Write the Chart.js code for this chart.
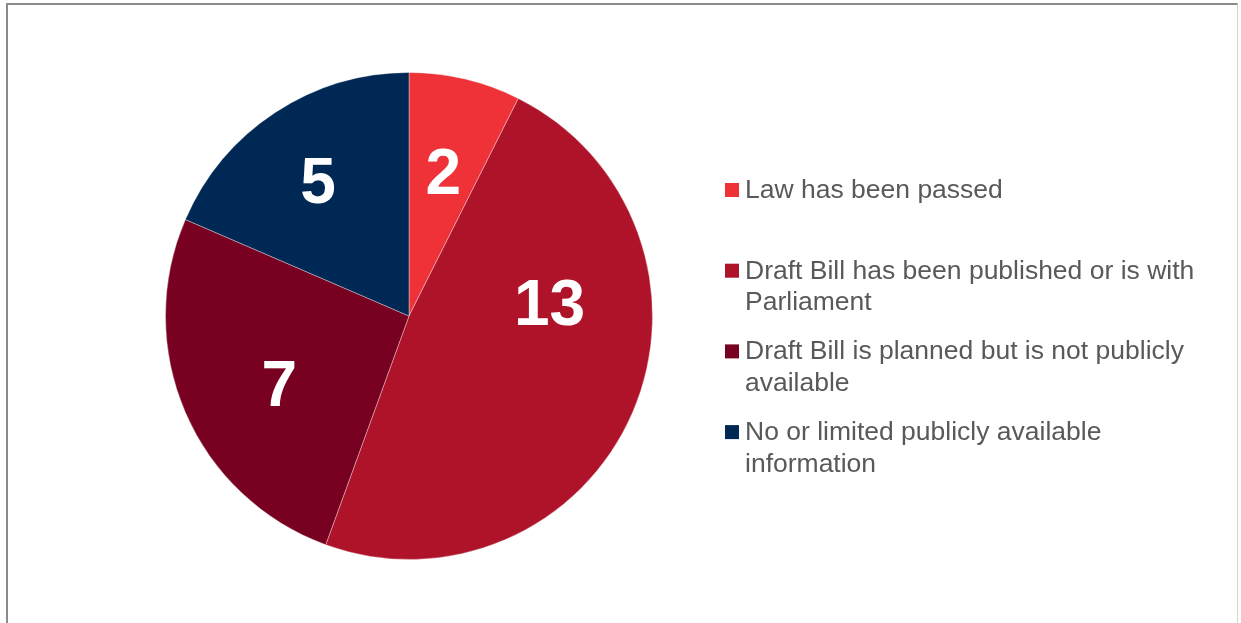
<!DOCTYPE html>
<html>
<head>
<meta charset="utf-8">
<script src="https://cdn.jsdelivr.net/npm/chart.js@4"></script>
<style>
html,body{margin:0;padding:0;background:#fff;width:1241px;height:623px;overflow:hidden;}
#frame{position:absolute;left:6px;top:3px;width:1232px;height:640px;border-left:2px solid #8a8a8a;border-top:2px solid #8a8a8a;border-right:1px solid #d4d4d4;box-sizing:border-box;}
#wrap{position:absolute;left:0;top:0;width:1241px;height:623px;}
</style>
</head>
<body>
<div id="frame"></div>
<div id="wrap"><canvas id="c" width="1241" height="623"></canvas></div>
<script>
const categories = [
  "Law has been passed",
  "Draft Bill has been published or is with Parliament",
  "Draft Bill is planned but is not publicly available",
  "No or limited publicly available information"
];
const values = [2, 13, 7, 5];
const colors = ["#EE3237", "#AE132A", "#780020", "#002855"];

const labelPlugin = {
  id: 'sliceLabels',
  afterDatasetsDraw(chart, args, opts) {
    const ctx = chart.ctx;
    const meta = chart.getDatasetMeta(0);
    const fs = opts.fontSize;
    ctx.save();
    ctx.fillStyle = '#ffffff';
    ctx.font = 'bold ' + fs + 'px "Liberation Sans", Arial, sans-serif';
    ctx.textAlign = 'center';
    ctx.textBaseline = 'alphabetic';
    meta.data.forEach((arc, i) => {
      const p = arc.getProps(['x','y','startAngle','endAngle','outerRadius'], true);
      const shift = (opts.angleShift[i] || 0) * Math.PI / 180;
      const a = (p.startAngle + p.endAngle) / 2 + shift;
      const r = p.outerRadius * opts.radiusFactor[i];
      const x = p.x + Math.cos(a) * r;
      const y = p.y + Math.sin(a) * r;
      ctx.fillText(String(values[i]), x, y + fs * 0.358);
    });
    ctx.restore();
  }
};

const legendPlugin = {
  id: 'sideLegend',
  afterDraw(chart, args, opts) {
    const ctx = chart.ctx;
    ctx.save();
    ctx.font = opts.fontSize + 'px "Liberation Sans", Arial, sans-serif';
    ctx.textBaseline = 'alphabetic';
    ctx.textAlign = 'left';
    categories.forEach((label, i) => {
      const base = opts.top + i * opts.step;
      ctx.fillStyle = colors[i];
      ctx.fillRect(opts.x, base - 15, 14, 14);
      const words = label.split(' ');
      const lines = [];
      let line = '';
      words.forEach(w => {
        const test = line ? line + ' ' + w : w;
        if (ctx.measureText(test).width > opts.maxWidth && line) {
          lines.push(line); line = w;
        } else line = test;
      });
      if (line) lines.push(line);
      ctx.fillStyle = '#595959';
      lines.forEach((l, j) => ctx.fillText(l, opts.x + 20, base + j * opts.lineHeight));
    });
    ctx.restore();
  }
};

new Chart(document.getElementById('c'), {
  type: 'pie',
  data: {
    labels: categories,
    datasets: [{
      data: values,
      backgroundColor: colors,
      borderColor: 'rgba(255,255,255,0.35)',
      borderWidth: 1
    }]
  },
  options: {
    responsive: false,
    animation: false,
    layout: { padding: { left: 165, right: 588, top: 72, bottom: 63 } },
    plugins: {
      legend: { display: false },
      tooltip: { enabled: false },
      sliceLabels: { fontSize: 64, radiusFactor: [0.61, 0.58, 0.60, 0.67], angleShift: [0, -29, -4, -0.5] },
      sideLegend: { x: 725, top: 198, step: 80.7, lineHeight: 31.5, fontSize: 26.5, maxWidth: 470 }
    }
  },
  plugins: [labelPlugin, legendPlugin]
});
</script>
</body>
</html>
